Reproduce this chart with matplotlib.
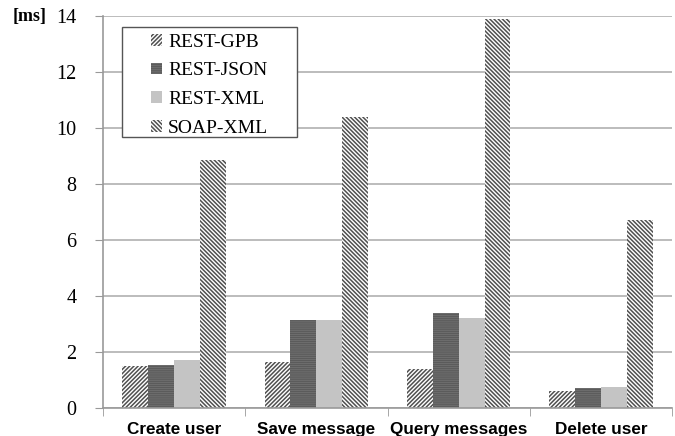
import numpy as np
import matplotlib

matplotlib.use("Agg")
import matplotlib.pyplot as plt
from matplotlib.patches import Rectangle

categories = ["Create user", "Save message", "Query messages", "Delete user"]
series = ["REST-GPB", "REST-JSON", "REST-XML", "SOAP-XML"]
rest_gpb = [1.5, 1.65, 1.4, 0.6]
rest_json = [1.55, 3.15, 3.4, 0.7]
rest_xml = [1.7, 3.15, 3.2, 0.75]
soap_xml = [8.85, 10.4, 13.9, 6.7]
values = [rest_gpb, rest_json, rest_xml, soap_xml]

styles = [
    dict(color="white", edgecolor="#505050", hatch="////////"),
    dict(color="#4e4e4e", edgecolor="#6c6c6c", hatch="--------"),
    dict(color="#c4c4c4", edgecolor="#b8b8b8", hatch=""),
    dict(color="white", edgecolor="#505050", hatch="\\\\\\\\\\\\\\\\"),
]

plt.rcParams["hatch.linewidth"] = 1.1

fig = plt.figure(figsize=(6.75, 4.36), dpi=100)
ax = fig.add_axes([0.1526, 0.0642, 0.843, 0.899])

x = np.arange(len(categories))
width = 0.182
for i, (name, vals, st) in enumerate(zip(series, values, styles)):
    ax.bar(x + (i - 1.5) * width, vals, width, label=name, linewidth=0, **st)

ax.set_xlim(-0.5, len(categories) - 0.5)
ax.set_ylim(0, 14)
ax.set_yticks(range(0, 15, 2))
ax.yaxis.grid(True, color="#b0b0b0", linewidth=1.2)
ax.set_axisbelow(True)

ax.set_xticks(x)
ax.set_xticklabels(categories, family="Liberation Sans", fontweight="heavy", fontsize=12.3)
ax.set_xticks(np.arange(len(categories) + 1) - 0.5, minor=True)
ax.tick_params(axis="x", which="major", length=0, pad=10)
ax.tick_params(axis="x", which="minor", length=6, color="#999999")
ax.tick_params(axis="y", length=6, color="#999999", labelsize=14.5, pad=13)
for lab in ax.get_yticklabels():
    lab.set_family("Liberation Serif")

for side in ["top", "right"]:
    ax.spines[side].set_visible(False)
for side in ["left", "bottom"]:
    ax.spines[side].set_color("#999999")
    ax.spines[side].set_linewidth(1.2)

fig.text(0.019, 0.963, "[ms]", family="Liberation Serif", fontweight="bold", fontsize=13, va="center")

# legend without its own frame, boxed like the original
leg = ax.legend(loc="upper left", bbox_to_anchor=(0.085, 0.955), frameon=False,
                prop={"family": "Liberation Serif", "size": 14},
                handlelength=0.55, handleheight=0.55, handletextpad=0.3, labelspacing=0.6,
                borderpad=0, borderaxespad=0)
leg.set_zorder(5)
box = Rectangle((122 / 675, 1 - 137 / 436), 175 / 675, 110 / 436, transform=fig.transFigure,
                facecolor="white", edgecolor="#555555", linewidth=1.0, zorder=4, clip_on=False)
ax.add_artist(box)

fig.savefig("out.png", dpi=100)
